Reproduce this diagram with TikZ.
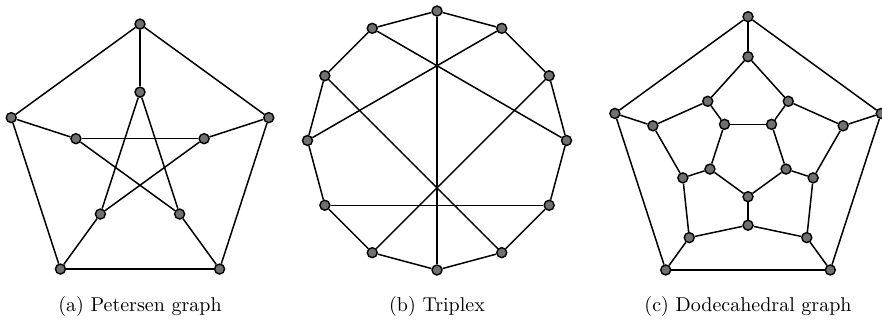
\documentclass[tikz,border=0pt]{standalone}
\usetikzlibrary{calc}
\definecolor{vfill}{RGB}{112,112,112}
\begin{document}
\begin{tikzpicture}[x=0.5pt,y=-0.5pt,
  vtx/.style={circle,draw=black,fill=vfill,line width=0.7pt,inner sep=0pt,minimum size=5pt},
  link/.style={line width=0.75pt,black},
  captext/.style={anchor=base,inner sep=0pt,font=\fontsize{10}{12}\selectfont}]
\useasboundingbox (0,0) rectangle (882,322);
% ---------- Petersen ----------
\coordinate (pc) at (140,159.5);
\foreach \k in {0,...,4}{
  \node[vtx] (po\k) at ($(pc)+({-90-72*\k}:135.4)$) {};
  \node[vtx] (pi\k) at ($(pc)+({-90-72*\k}:67.4)$) {};
}
\foreach \a/\b in {0/1,1/2,2/3,3/4,4/0}{\draw[link] (po\a)--(po\b);}
\foreach \a in {0,...,4}{\draw[link] (po\a)--(pi\a);}
\foreach \a/\b in {0/2,2/4,4/1,1/3,3/0}{\draw[link] (pi\a)--(pi\b);}
\node[captext] (capa) at (140,311) {(a) Petersen graph};
% ---------- Triplex ----------
\coordinate (tc) at (437,140.5);
\foreach \k in {0,...,11}{
  \node[vtx] (t\k) at ($(tc)+({-90+30*\k}:129.5)$) {};
}
\foreach \a/\b in {0/1,1/2,2/3,3/4,4/5,5/6,6/7,7/8,8/9,9/10,10/11,11/0}{\draw[link] (t\a)--(t\b);}
\foreach \a/\b in {0/6,1/9,11/3,10/5,2/7,8/4}{\draw[link] (t\a)--(t\b);}
\node[captext] (capb) at (437,311) {(b) Triplex};
% ---------- Dodecahedral ----------
\coordinate (dc) at (748,156.7);
\foreach \k in {0,...,4}{
  \node[vtx] (da\k) at ($(dc)+({-90-72*\k}:140)$) {};
  \node[vtx] (db\k) at ($(dc)+({-90-72*\k}:100)$) {};
  \node[vtx] (dd\k) at ($(dc)+({-126-72*\k}:68.5)$) {};
  \node[vtx] (de\k) at ($(dc)+({-126-72*\k}:40)$) {};
}
\foreach \a/\b in {0/1,1/2,2/3,3/4,4/0}{
  \draw[link] (da\a)--(da\b);
  \draw[link] (de\a)--(de\b);
  \draw[link] (db\a)--(dd\a);
  \draw[link] (dd\a)--(db\b);
}
\foreach \a in {0,...,4}{
  \draw[link] (da\a)--(db\a);
  \draw[link] (dd\a)--(de\a);
}
\node[captext] (capc) at (748,311) {(c) Dodecahedral graph};
\end{tikzpicture}
\end{document}
